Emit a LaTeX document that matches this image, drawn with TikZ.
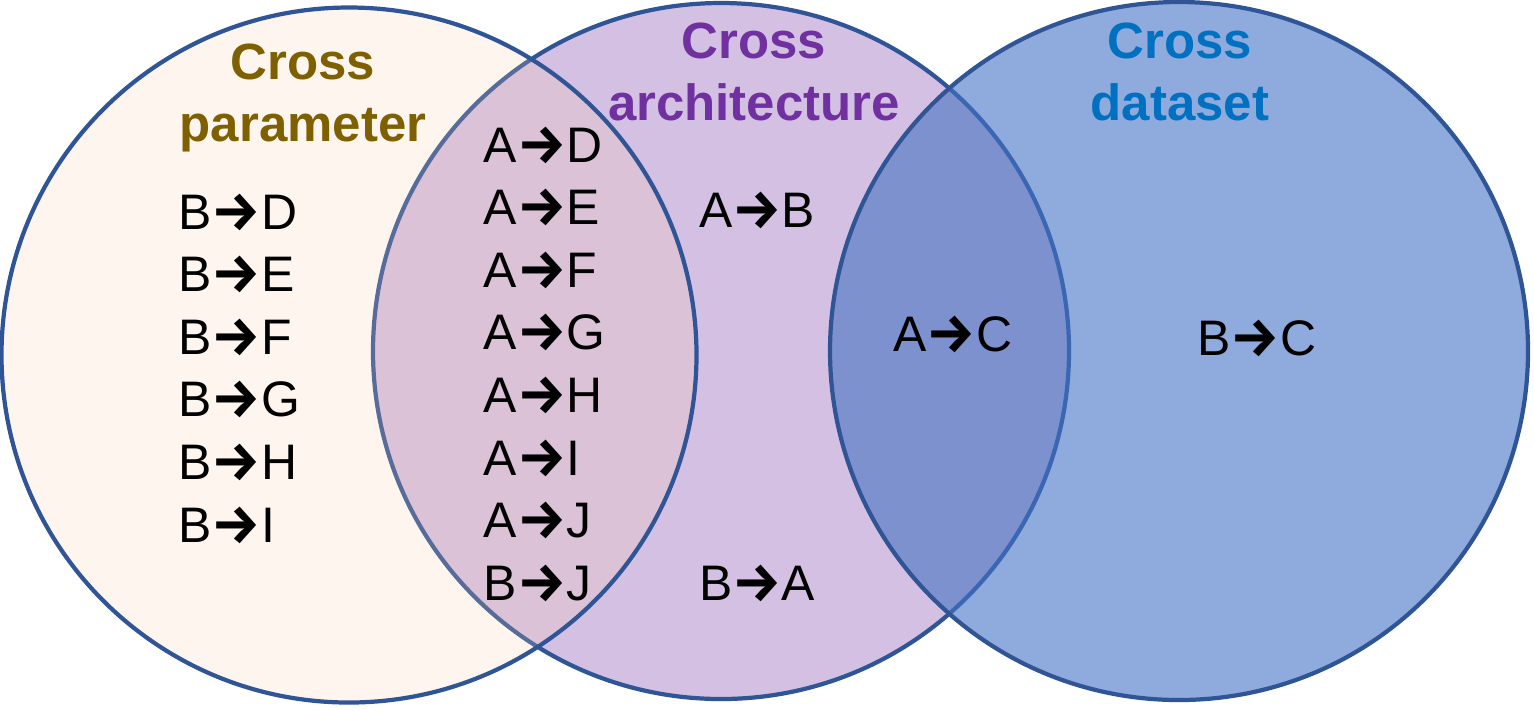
\documentclass[tikz,border=0pt]{standalone}
\usepackage{fontspec}
\setmainfont{Liberation Sans}
\newfontfamily\arrowfont[Scale=1.1]{Fira Sans}
\usetikzlibrary{positioning}

\definecolor{vennline}{HTML}{2F5597}
\definecolor{paramfill}{HTML}{F8CBAD}
\definecolor{archfill}{HTML}{7030A0}
\definecolor{datafill}{HTML}{4472C4}
\definecolor{paramtext}{HTML}{7F6000}
\definecolor{archtext}{HTML}{7030A0}
\definecolor{datatext}{HTML}{0070C0}

\newcommand{\goesto}{\raisebox{-0.02em}{\arrowfont\bfseries →}}

\begin{document}
\begin{tikzpicture}
[node distance=6.26mm, font=\fontsize{14.2}{17}\selectfont]

\tikzstyle{set}=[line width=1.2pt, draw=vennline]
\tikzstyle{title}=[inner sep=0pt, anchor=north, align=center, font=\fontsize{14.5}{17.6}\selectfont\bfseries]
\tikzstyle{item}=[inner sep=0pt, anchor=base west]
\tikzstyle{pair}=[inner sep=0pt, anchor=base]

\useasboundingbox (0,0) rectangle (15.34,-7.09);

% sets
\draw[set, fill=archfill, fill opacity=.3]	(7.21,-3.51)	circle (3.48);
\draw[set, fill=paramfill, fill opacity=.2]	(3.49,-3.55)	circle (3.475);
\draw[set, fill=datafill, fill opacity=.6]	(11.79,-3.51)	circle (3.49);

% titles
\node[title, text=paramtext]	(param)	at (3.03,-0.43)		{Cross\\parameter};
\node[title, text=archtext]	(arch)	at (7.54,-0.22)		{Cross\\architecture};
\node[title, text=datatext]	(data)	at (11.80,-0.22)	{Cross\\dataset};

% cross parameter only
\node[item]	(BD)	at (1.78,-2.29)	{B\goesto D};
\node[item]	(BE)	[below=of BD.base west, anchor=base west]	{B\goesto E};
\node[item]	(BF)	[below=of BE.base west, anchor=base west]	{B\goesto F};
\node[item]	(BG)	[below=of BF.base west, anchor=base west]	{B\goesto G};
\node[item]	(BH)	[below=of BG.base west, anchor=base west]	{B\goesto H};
\node[item]	(BI)	[below=of BH.base west, anchor=base west]	{B\goesto I};

% parameter and architecture
\node[item]	(AD)	at (4.83,-1.62)	{A\goesto D};
\node[item]	(AE)	[below=of AD.base west, anchor=base west]	{A\goesto E};
\node[item]	(AF)	[below=of AE.base west, anchor=base west]	{A\goesto F};
\node[item]	(AG)	[below=of AF.base west, anchor=base west]	{A\goesto G};
\node[item]	(AH)	[below=of AG.base west, anchor=base west]	{A\goesto H};
\node[item]	(AI)	[below=of AH.base west, anchor=base west]	{A\goesto I};
\node[item]	(AJ)	[below=of AI.base west, anchor=base west]	{A\goesto J};
\node[item]	(BJ)	[below=of AJ.base west, anchor=base west]	{B\goesto J};

% architecture, dataset
\node[pair]	(AB)	at (7.57,-2.27)		{A\goesto B};
\node[pair]	(BA)	at (7.57,-6.00)		{B\goesto A};
\node[pair]	(AC)	at (9.53,-3.51)		{A\goesto C};
\node[pair]	(BC)	at (12.57,-3.55)	{B\goesto C};
\end{tikzpicture}
\end{document}
